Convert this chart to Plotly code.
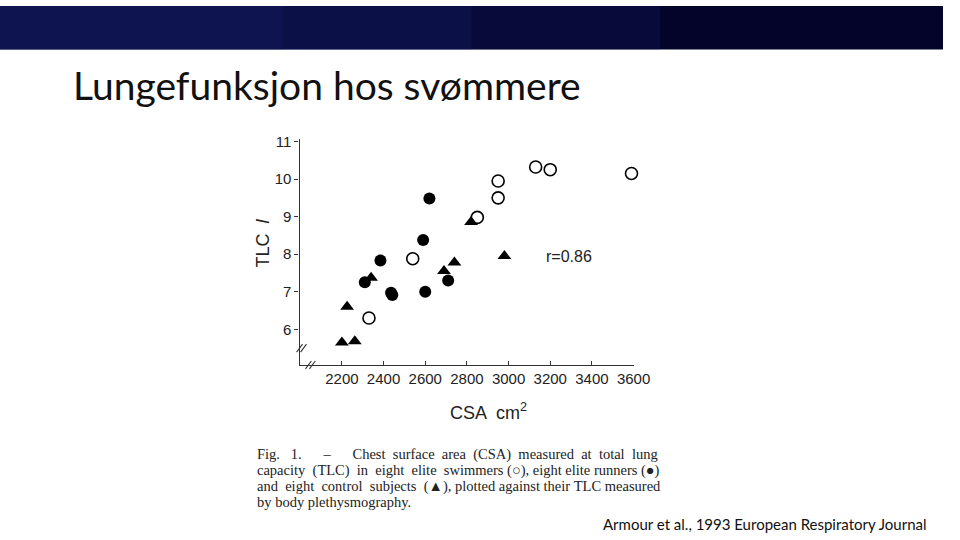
import plotly.graph_objects as go

# swimmers (open circles)
swim_csa = [2330, 2540, 2850, 2950, 2950, 3130, 3200, 3590]
swim_tlc = [6.3, 7.88, 8.98, 9.5, 9.95, 10.32, 10.25, 10.15]

# runners (filled circles)
run_csa = [2310, 2385, 2436, 2442, 2590, 2600, 2620, 2710]
run_tlc = [7.25, 7.83, 6.97, 6.91, 8.38, 7.0, 9.48, 7.3]

# controls (filled triangles)
ctrl_csa = [2200, 2262, 2225, 2340, 2690, 2740, 2820, 2980]
ctrl_tlc = [5.65, 5.68, 6.6, 7.37, 7.55, 7.78, 8.86, 7.95]

x_ticks = [2200, 2400, 2600, 2800, 3000, 3200, 3400, 3600]
y_ticks = [6, 7, 8, 9, 10, 11]

# caption lines + how many extra spaces to spread in (the scan is justified)
caption_lines = [
    ("Fig. 1.  \u2013  Chest surface area (CSA) measured at total lung", 17),
    ("capacity (TLC) in eight elite swimmers (\u25CB), eight elite runners (\u25CF)", 5),
    ("and eight control subjects (\u25B2), plotted against their TLC measured", 4),
    ("by body plethysmography.", 0),
]


def spread(line, extra):
    # pad the word gaps with non-breaking spaces, round robin
    parts = line.split(" ")
    gaps = len(parts) - 1
    out = parts[0]
    for i, p in enumerate(parts[1:]):
        n = 1 + extra // gaps + (1 if i < extra % gaps else 0)
        out += "\u00a0" * n + p
    return out


def px(x):
    return x / 960


def py(y):
    return 1 - y / 540


fig = go.Figure()

fig.add_trace(go.Scatter(
    x=swim_csa, y=swim_tlc, mode="markers", name="Swimmers", cliponaxis=False,
    marker=dict(symbol="circle-open", size=12, color="black", line=dict(width=1.6, color="black"))
))
fig.add_trace(go.Scatter(
    x=run_csa, y=run_tlc, mode="markers", name="Runners", cliponaxis=False,
    marker=dict(symbol="circle", size=12, color="black")
))
fig.add_trace(go.Scatter(
    x=ctrl_csa, y=ctrl_tlc, mode="markers", name="Controls", cliponaxis=False,
    marker=dict(symbol="triangle-up", size=12, color="black")
))

axis_font = dict(family="Liberation Sans, Arial", size=15, color="#222")

fig.update_layout(
    width=960, height=540,
    margin=dict(l=0, r=0, t=0, b=0),
    paper_bgcolor="white", plot_bgcolor="white",
    showlegend=False,
    xaxis=dict(
        domain=[px(305), px(645)], range=[1997, 3600],
        tickvals=x_ticks, ticks="inside", ticklen=4, tickcolor="#333",
        showline=True, linecolor="#333", linewidth=1.3, showgrid=False, zeroline=False,
        tickfont=axis_font,
    ),
    yaxis=dict(
        domain=[py(363), py(134)], range=[5.05, 11.08],
        tickvals=y_ticks, ticks="outside", ticklen=4, tickcolor="#333",
        showline=True, linecolor="#333", linewidth=1.3, showgrid=False, zeroline=False,
        tickfont=axis_font,
    ),
    font=dict(family="Liberation Sans, Arial", color="#222"),
)

# top banner
fig.add_shape(type="rect", xref="paper", yref="paper", x0=0, x1=1, y0=py(44), y1=1,
              fillcolor="#04042a", line_width=0, layer="below")
for x1, op in [(0.7, 0.25), (0.5, 0.25), (0.3, 0.25)]:
    fig.add_shape(type="rect", xref="paper", yref="paper", x0=0, x1=x1, y0=py(44), y1=1,
                  fillcolor="#15206a", opacity=op, line_width=0, layer="below")

# axis break marks "//"
for cx, cy in [(305, 346), (309, 346), (314, 363), (318, 363)]:
    fig.add_shape(type="line", xref="paper", yref="paper",
                  x0=px(cx - 3), y0=py(cy + 4), x1=px(cx + 3), y1=py(cy - 4),
                  line=dict(color="#333", width=1.1))

annotations = [
    dict(text="Lungefunksjon hos sv\u00f8mmere", x=px(72), y=py(80), xanchor="left", yanchor="middle",
         font=dict(family="Lato", size=39, color="#111"), showarrow=False, xref="paper", yref="paper"),
    dict(text="CSA  cm<sup>2</sup>", x=px(497), y=py(410), xanchor="center", yanchor="middle",
         font=dict(family="Liberation Sans, Arial", size=18, color="#222"), showarrow=False, xref="paper", yref="paper"),
    dict(text="TLC  <i>l</i>", x=px(268), y=py(240), xanchor="center", yanchor="middle", textangle=-90,
         font=dict(family="Liberation Sans, Arial", size=18, color="#222"), showarrow=False, xref="paper", yref="paper"),
    dict(text="r=0.86", x=3172, y=7.95, xanchor="left", yanchor="middle",
         font=dict(family="Liberation Sans, Arial", size=16, color="#222"), showarrow=False, xref="x", yref="y"),
    dict(text="Armour et al., 1993 European Respiratory Journal", x=px(946), y=py(524),
         xanchor="right", yanchor="middle",
         font=dict(family="Lato", size=15, color="#111"), showarrow=False, xref="paper", yref="paper"),
]

for i, (line, extra) in enumerate(caption_lines):
    annotations.append(dict(
        text=spread(line, extra), x=px(260), y=py(454 + i * 16), xanchor="left", yanchor="middle",
        font=dict(family="Liberation Serif, Times New Roman", size=14.5, color="#222"),
        showarrow=False, xref="paper", yref="paper"
    ))

fig.update_layout(annotations=annotations)

# drop the default page margin so the slide sits flush in the window
fig.write_html(
    "out.html",
    config={"displayModeBar": False},
    post_script="document.body.style.margin='0';document.body.style.overflow='hidden';",
)
